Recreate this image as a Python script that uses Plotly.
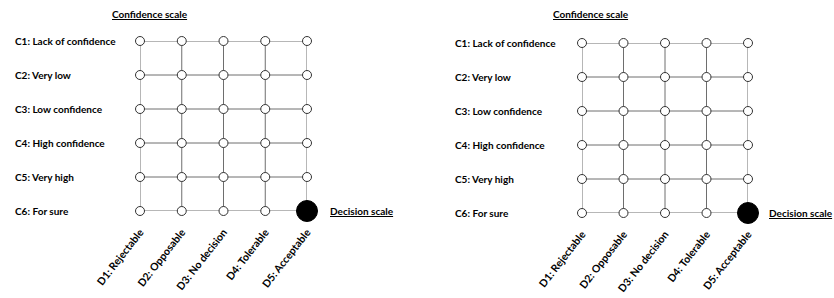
import plotly.graph_objects as go

decision_labels = ["D1: Rejectable", "D2: Opposable", "D3: No decision", "D4: Tolerable", "D5: Acceptable"]
confidence_labels = ["C1: Lack of confidence", "C2: Very low", "C3: Low confidence",
                     "C4: High confidence", "C5: Very high", "C6: For sure"]
selected_decision = "D5: Acceptable"
selected_confidence = "C6: For sure"

W, H = 834, 298
FONT = "Lato"
FS = 10
LINE = "#6e6e6e"

# panel pixel layout
panels = [
    dict(x0=140, x1=307, y0=41, y1=211, lab=13, title=150, dec=328),
    dict(x0=582, x1=748, y0=43, y1=213, lab=453, title=591, dec=767),
]

fig = go.Figure()
nd, nc = len(decision_labels), len(confidence_labels)
xi = list(range(nd))
yi = list(range(nc))

for k, p in enumerate(panels, start=1):
    xa = "x" if k == 1 else f"x{k}"
    ya = "y" if k == 1 else f"y{k}"
    for j in yi:
        fig.add_trace(go.Scatter(x=xi, y=[j] * nd, mode="lines", line=dict(color=LINE, width=1),
                                 xaxis=xa, yaxis=ya, showlegend=False, hoverinfo="skip"))
    for i in xi:
        fig.add_trace(go.Scatter(x=[i] * nc, y=yi, mode="lines", line=dict(color=LINE, width=1),
                                 xaxis=xa, yaxis=ya, showlegend=False, hoverinfo="skip"))
    px, py = [], []
    for j in yi:
        for i in xi:
            if decision_labels[i] == selected_decision and confidence_labels[j] == selected_confidence:
                continue
            px.append(i); py.append(j)
    fig.add_trace(go.Scatter(x=px, y=py, mode="markers",
                             marker=dict(size=9, color="white", line=dict(color="#333333", width=1)),
                             xaxis=xa, yaxis=ya, showlegend=False, cliponaxis=False))
    fig.add_trace(go.Scatter(x=[decision_labels.index(selected_decision)],
                             y=[confidence_labels.index(selected_confidence)], mode="markers",
                             marker=dict(size=21, color="black", line=dict(color="black", width=1)),
                             xaxis=xa, yaxis=ya, showlegend=False, cliponaxis=False))
    xdom = [p["x0"] / W, p["x1"] / W]
    ydom = [1 - p["y1"] / H, 1 - p["y0"] / H]
    fig.update_layout(**{
        ("xaxis" if k == 1 else f"xaxis{k}"): dict(
            domain=xdom, range=[0, nd - 1], anchor=ya, showgrid=False, zeroline=False,
            showline=False, tickmode="array", tickvals=xi,
            ticktext=[f"<b>{t}</b>" for t in decision_labels],
            tickangle=-52, ticks="", ticklabelstandoff=12, automargin=False,
            tickfont=dict(family=FONT, size=FS + 0.5, color="black")),
        ("yaxis" if k == 1 else f"yaxis{k}"): dict(
            domain=ydom, range=[nc - 1, 0], anchor=xa, showgrid=False, zeroline=False,
            showline=False, showticklabels=False, automargin=False),
    })
    for j, lab in enumerate(confidence_labels):
        fig.add_annotation(x=p["lab"] / W, xref="paper", y=j, yref=ya, text=f"<b>{lab}</b>",
                           showarrow=False, xanchor="left", yanchor="middle",
                           font=dict(family=FONT, size=FS, color="black"))
    fig.add_annotation(x=p["title"] / W, xref="paper", y=1 - 14 / H, yref="paper",
                       text="<b><u>Confidence scale</u></b>", showarrow=False,
                       xanchor="center", yanchor="middle",
                       font=dict(family=FONT, size=FS, color="black"))
    fig.add_annotation(x=p["dec"] / W, xref="paper", y=nc - 1, yref=ya,
                       text="<b><u>Decision scale</u></b>", showarrow=False,
                       xanchor="left", yanchor="middle",
                       font=dict(family=FONT, size=FS, color="black"))

fig.update_layout(width=W, height=H, margin=dict(l=0, r=0, t=0, b=0),
                  plot_bgcolor="white", paper_bgcolor="white")
fig.write_html("out.html", config={"displayModeBar": False},
               post_script="document.body.style.margin='0';document.body.style.overflow='hidden';")
